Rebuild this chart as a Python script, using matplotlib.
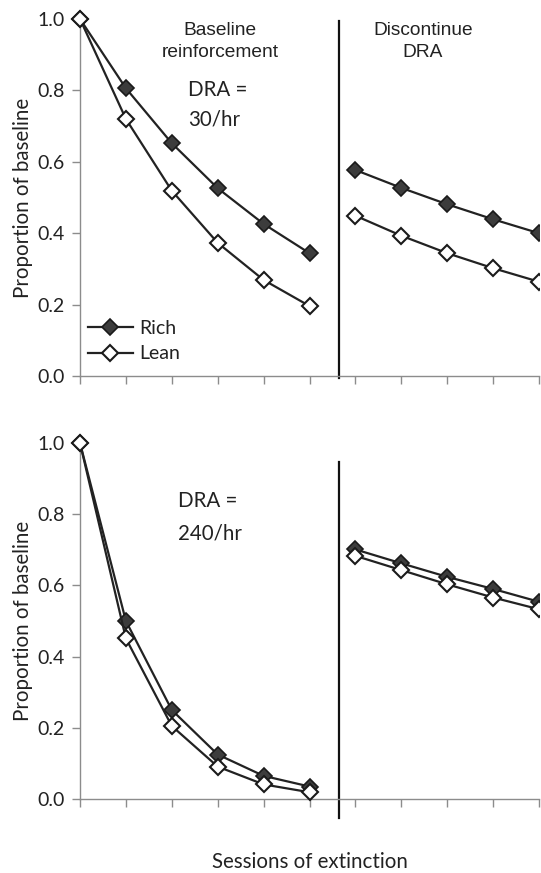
import matplotlib
matplotlib.use("Agg")
import matplotlib.pyplot as plt

# Data
sessions_baseline = [0, 1, 2, 3, 4, 5]
sessions_discont = [6, 7, 8, 9, 10]

top_rich_base = [1.0, 0.806, 0.652, 0.526, 0.426, 0.344]
top_rich_disc = [0.577, 0.527, 0.481, 0.439, 0.400]
top_lean_base = [1.0, 0.720, 0.519, 0.373, 0.269, 0.196]
top_lean_disc = [0.449, 0.393, 0.344, 0.302, 0.264]

bot_rich_base = [1.0, 0.500, 0.250, 0.125, 0.065, 0.035]
bot_rich_disc = [0.701, 0.662, 0.624, 0.590, 0.554]
bot_lean_base = [1.0, 0.451, 0.205, 0.091, 0.041, 0.019]
bot_lean_disc = [0.683, 0.643, 0.603, 0.566, 0.533]

yticks = [0.0, 0.2, 0.4, 0.6, 0.8, 1.0]
ytick_labels = ["0.0", "0.2", "0.4", "0.6", "0.8", "1.0"]

W, H = 541, 873
fig = plt.figure(figsize=(W / 100, H / 100), dpi=100)

FONT = "Lato"
ARIAL = "Liberation Sans"
FS = 14
FS_LAB = 14.8
FS_AR = 13.8
DARK = "#222222"
SPINE = "#8c8c8c"

ax_top = fig.add_axes([80 / W, (H - 376) / H, 459 / W, 357 / H])
ax_bot = fig.add_axes([80 / W, (H - 799) / H, 459 / W, 356 / H])

rich_style = dict(color=DARK, lw=1.6, marker="D", markersize=8.5,
                  markerfacecolor="#3c3c3c", markeredgecolor="#1a1a1a", markeredgewidth=1.2)
lean_style = dict(color=DARK, lw=1.6, marker="D", markersize=8.5,
                  markerfacecolor="white", markeredgecolor="#1a1a1a", markeredgewidth=1.5)


def setup(ax, vtop, vbot):
    ax.set_xlim(0, 10)
    ax.set_ylim(0, 1.0)
    ax.set_xticks(range(0, 11))
    ax.set_xticklabels([])
    ax.set_yticks(yticks)
    ax.set_yticklabels(ytick_labels, fontfamily=FONT, fontsize=FS, color=DARK)
    for s in ["top", "right"]:
        ax.spines[s].set_visible(False)
    for s in ["left", "bottom"]:
        ax.spines[s].set_color(SPINE)
        ax.spines[s].set_linewidth(1.0)
    ax.tick_params(axis="x", direction="out", length=6, color=SPINE, width=1.0)
    ax.tick_params(axis="y", direction="out", length=6, color=SPINE, width=1.0, pad=5)
    ax.set_ylabel("Proportion of baseline", fontfamily=FONT, fontsize=FS_LAB, color=DARK, labelpad=3)
    ax.plot([5.65, 5.65], [vbot, vtop], color="#111111", lw=1.6, clip_on=False, zorder=1)


setup(ax_top, 0.994, -0.006)
setup(ax_bot, 0.947, -0.053)

# Top panel
l1, = ax_top.plot(sessions_baseline, top_rich_base, clip_on=False, zorder=4, label="Rich", **rich_style)
l2, = ax_top.plot(sessions_baseline, top_lean_base, clip_on=False, zorder=5, label="Lean", **lean_style)
ax_top.plot(sessions_discont, top_rich_disc, zorder=4, **rich_style)
ax_top.plot(sessions_discont, top_lean_disc, zorder=5, **lean_style)

# Bottom panel
ax_bot.plot(sessions_baseline, bot_rich_base, clip_on=False, zorder=4, **rich_style)
ax_bot.plot(sessions_baseline, bot_lean_base, clip_on=False, zorder=5, **lean_style)
ax_bot.plot(sessions_discont, bot_rich_disc, zorder=4, **rich_style)
ax_bot.plot(sessions_discont, bot_lean_disc, zorder=5, **lean_style)

leg = ax_top.legend(handles=[l1, l2], loc="lower left", bbox_to_anchor=(-0.012, 0.0),
                    frameon=False, prop={"family": FONT, "size": FS}, handlelength=2.3,
                    handletextpad=0.35, labelspacing=0.45, borderaxespad=0.3)
for t in leg.get_texts():
    t.set_color(DARK)

# Annotations
fig.text(220 / W, 1 - 41.5 / H, "Baseline\nreinforcement", ha="center", va="center",
         fontfamily=ARIAL, fontsize=FS_AR, color=DARK, linespacing=1.4)
fig.text(423 / W, 1 - 41.5 / H, "Discontinue\nDRA", ha="center", va="center",
         fontfamily=ARIAL, fontsize=FS_AR, color=DARK, linespacing=1.4)
fig.text(188 / W, 1 - 105 / H, "DRA =\n30/hr", ha="left", va="center",
         fontfamily=FONT, fontsize=FS_LAB, color=DARK, linespacing=1.6)
fig.text(178 / W, 1 - 517 / H, "DRA =\n240/hr", ha="left", va="center",
         fontfamily=FONT, fontsize=FS_LAB, color=DARK, linespacing=1.75)
fig.text(310 / W, 1 - 862 / H, "Sessions of extinction", ha="center", va="center",
         fontfamily=FONT, fontsize=FS_LAB, color=DARK)

fig.savefig("out.png", dpi=100)
